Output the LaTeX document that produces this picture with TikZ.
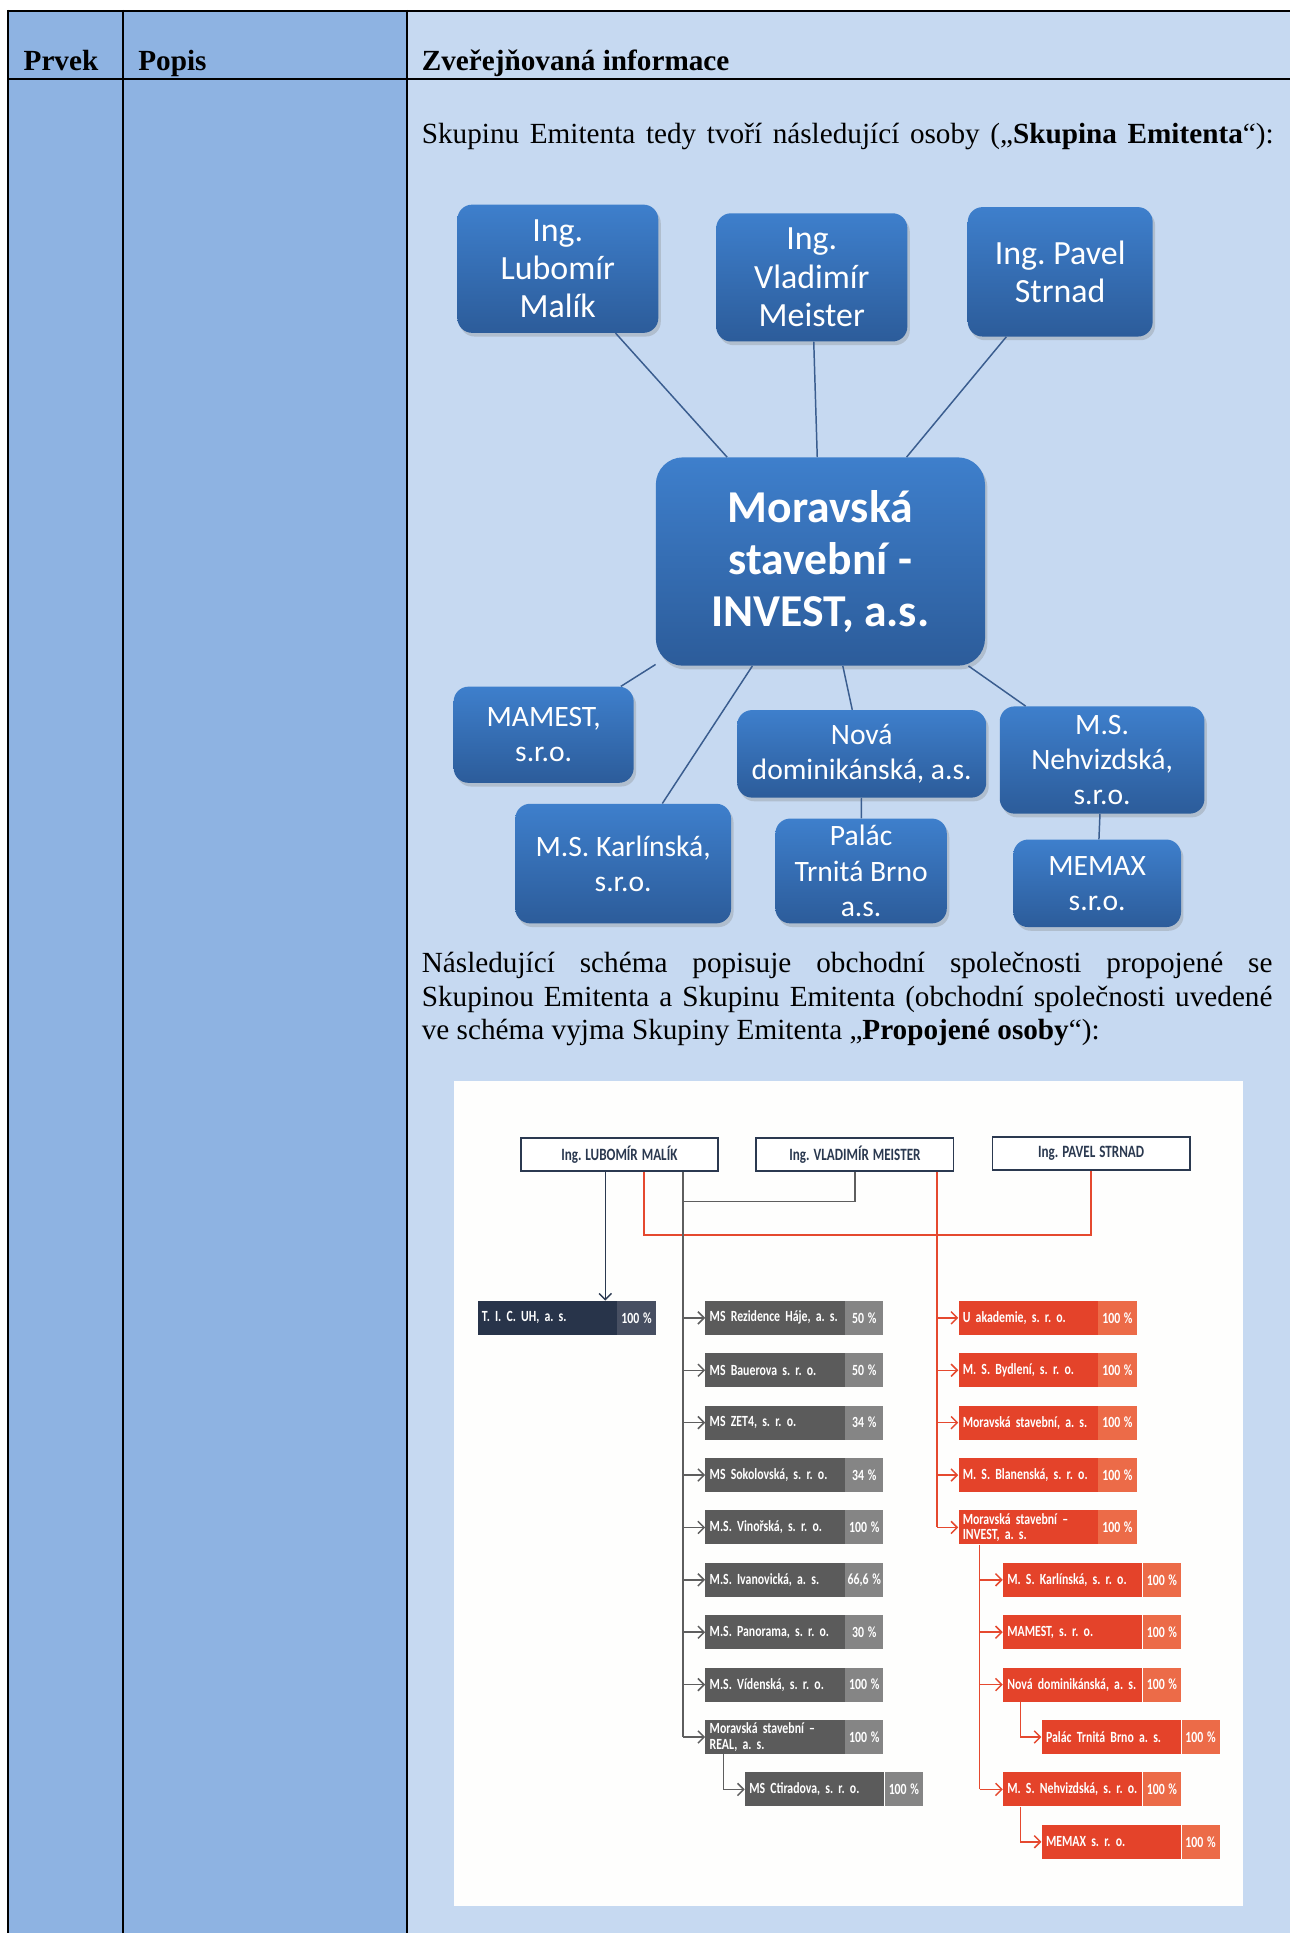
\documentclass[tikz,border=0pt]{standalone}
\usepackage{fontspec}
\setmainfont{Liberation Serif}
\newfontfamily\boxfont{Carlito}
\newfontfamily\chartfont[FakeStretch=0.76]{Carlito}
\usetikzlibrary{arrows.meta, positioning, shadows}

\definecolor{colmid}{HTML}{8EB3E2}
\definecolor{collight}{HTML}{C6D9F1}
\definecolor{boxtop}{HTML}{3E7FCC}
\definecolor{boxbot}{HTML}{2C5C9A}
\definecolor{linkblue}{HTML}{3A5D8F}
\definecolor{chartdark}{HTML}{2B3950}
\definecolor{ticdark}{HTML}{28344A}
\definecolor{ticpct}{HTML}{474F62}
\definecolor{grdark}{HTML}{5B5B5B}
\definecolor{grpct}{HTML}{858585}
\definecolor{grline}{HTML}{5E5E5E}
\definecolor{rddark}{HTML}{E4432A}
\definecolor{rdpct}{HTML}{EC6B48}
\definecolor{rdline}{HTML}{E5492F}
\definecolor{paper}{HTML}{FEFEFD}

\newcommand\bodysize{\fontsize{23.7}{27.3}\selectfont}
\newcommand\rowsize{\chartfont\bfseries\fontsize{12.6}{12.5}\selectfont\spaceskip=3pt plus 1pt\relax}
\newcommand\ownersize{\chartfont\bfseries\fontsize{14}{14}\selectfont\spaceskip=3.2pt\relax}

\begin{document}
\frenchspacing
\begin{tikzpicture}[x=1pt, y=-1pt,
    person/.style={rounded corners=12pt, top color=boxtop, bottom color=boxbot, text=white, align=center, inner sep=0pt,
        drop shadow={opacity=0.3, shadow xshift=2pt, shadow yshift=-3pt}},
    toplevel/.style={person, font=\boxfont\fontsize{27.5}{31}\selectfont},
    sublevel/.style={person, font=\boxfont\fontsize{24}{28.5}\selectfont},
    link/.style={draw=linkblue, line width=1.2pt},
    owner/.style={draw=chartdark, line width=1.5pt, fill=white, text=chartdark, minimum width=160pt, minimum height=27pt,
        inner sep=0pt, font=\ownersize},
    firm/.style={anchor=west, text=white, minimum height=27.5pt, text width=106pt, inner xsep=3.5pt, inner ysep=0pt,
        align=left, font=\rowsize},
    share/.style={text=white, minimum height=27.5pt, minimum width=31pt, inner sep=0pt, font=\rowsize},
    ticname/.style={firm, fill=ticdark}, ticshare/.style={share, fill=ticpct},
    grname/.style={firm, fill=grdark}, grshare/.style={share, fill=grpct},
    rdname/.style={firm, fill=rddark}, rdshare/.style={share, fill=rdpct},
    barb/.style={-{Straight Barb[length=5pt,width=10pt]}},
    grconn/.style={draw=grline, line width=1.2pt},
    rdconn/.style={draw=rdline, line width=1.2pt},
    dkconn/.style={draw=chartdark, line width=1.2pt}]

    \useasboundingbox (0,0) rectangle (1046,1568);

    % Table background and rules
    \fill[colmid] (7,8) rectangle (330,1568);
    \fill[collight] (330,8) rectangle (1046,1568);
    \draw[line width=1.4pt] (6.5,9) -- (1046,9);
    \draw[line width=2.2pt] (6.5,64) -- (1046,64);
    \draw[line width=1.8pt] (6.5,8) -- (6.5,1568);
    \draw[line width=1.8pt] (100,8) -- (100,1568);
    \draw[line width=1.8pt] (330,8) -- (330,1568);

    \node at (19,57) [anchor=base west, inner sep=0pt, font=\bodysize\bfseries] (hprvek) {Prvek};
    \node at (112,57) [anchor=base west, inner sep=0pt, font=\bodysize\bfseries] (hpopis) {Popis};
    \node at (342,57) [anchor=base west, inner sep=0pt, font=\bodysize\bfseries] (hinfo) {Zveřejňovaná informace};

    \node at (342,116) [anchor=base west, inner sep=0pt, font=\bodysize] (intro)
        {\makebox[691pt][s]{Skupinu Emitenta tedy tvoří následující osoby („\textbf{Skupina Emitenta}“):}};

    % Skupina Emitenta
    \node at (452.5,218) [toplevel, minimum width=163pt, minimum height=104pt] (malik) {Ing.\\Lubomír\\Malík};
    \node at (658.5,225) [toplevel, minimum width=155pt, minimum height=104pt] (meister) {Ing.\\Vladimír\\Meister};
    \node at (860,220.5) [toplevel, minimum width=150pt, minimum height=105pt] (strnad) {Ing. Pavel\\Strnad};
    \node at (665.5,455.5) [person, rounded corners=22pt, minimum width=267pt, minimum height=169pt,
        font=\boxfont\bfseries\fontsize{37}{42.5}\selectfont] (msinvest) {Moravská\\stavební -\\INVEST, a.s.};
    \node at (441,596) [sublevel, minimum width=146pt, minimum height=78pt] (mamest) {MAMEST,\\s.r.o.};
    \node at (699,611.5) [sublevel, minimum width=202pt, minimum height=71pt] (nova) {Nová\\dominikánská, a.s.};
    \node at (894,616.5) [sublevel, minimum width=166pt, minimum height=87pt] (nehv) {M.S.\\Nehvizdská,\\s.r.o.};
    \node at (505.5,700.5) [sublevel, minimum width=175pt, minimum height=97pt] (karl) {M.S. Karlínská,\\s.r.o.};
    \node at (698.5,706.5) [sublevel, minimum width=139pt, minimum height=85pt] (palac) {Palác\\Trnitá Brno\\a.s.};
    \node at (890,716.5) [sublevel, minimum width=136pt, minimum height=71pt] (memax) {MEMAX\\s.r.o.};

    \draw[link] (malik) -- (msinvest);
    \draw[link] (meister) -- (msinvest);
    \draw[link] (strnad) -- (msinvest);
    \draw[link] (msinvest) -- (mamest);
    \draw[link] (msinvest) -- (karl);
    \draw[link] (msinvest) -- (nova);
    \draw[link] (msinvest) -- (nehv);
    \draw[link] (nova) -- (palac);
    \draw[link] (nehv) -- (memax);

    \node at (342,789) [anchor=base west, inner sep=0pt, text width=690pt, align=justify, font=\bodysize] (para)
        {\hyphenpenalty=10000 Následující schéma popisuje obchodní společnosti propojené se\linebreak
         Skupinou Emitenta a Skupinu Emitenta (obchodní společnosti uvedené\linebreak
         ve schéma vyjma Skupiny Emitenta „\textbf{Propojené osoby}“):};

    % Propojene osoby
    \fill[paper] (368,877) rectangle (1008,1546);

    \node at (502.4,936.5) [owner] (lmalik) {Ing. LUBOMÍR MALÍK};
    \node at (693.5,936.5) [owner] (lmeister) {Ing. VLADIMÍR MEISTER};
    \node at (885.1,935.5) [owner] (lstrnad) {Ing. PAVEL STRNAD};

    \node at (387.2,1069) [ticname] (tic) {T. I. C. UH, a. s.};
    \node [ticshare, right=0pt of tic] (ticp) {100 \%};

    \node at (572,1069) [grname] (g0) {MS Rezidence Háje, a. s.};
    \node [grshare, right=0pt of g0] (g0p) {50 \%};
    \node at (572,1111.5) [grname] (g1) {MS Bauerova s. r. o.};
    \node [grshare, right=0pt of g1] (g1p) {50 \%};
    \node at (572,1154) [grname] (g2) {MS ZET4, s. r. o.};
    \node [grshare, right=0pt of g2] (g2p) {34 \%};
    \node at (572,1196.5) [grname] (g3) {MS Sokolovská, s. r. o.};
    \node [grshare, right=0pt of g3] (g3p) {34 \%};
    \node at (572,1239) [grname] (g4) {M.S. Vinořská, s. r. o.};
    \node [grshare, right=0pt of g4] (g4p) {100 \%};
    \node at (572,1281.5) [grname] (g5) {M.S. Ivanovická, a. s.};
    \node [grshare, right=0pt of g5] (g5p) {66,6 \%};
    \node at (572,1324) [grname] (g6) {M.S. Panorama, s. r. o.};
    \node [grshare, right=0pt of g6] (g6p) {30 \%};
    \node at (572,1366.5) [grname] (g7) {M.S. Vídenská, s. r. o.};
    \node [grshare, right=0pt of g7] (g7p) {100 \%};
    \node at (572,1409) [grname] (g8) {Moravská stavební –\\REAL, a. s.};
    \node [grshare, right=0pt of g8] (g8p) {100 \%};
    \node at (604.1,1451.5) [grname] (g9) {MS Ctiradova, s. r. o.};
    \node [grshare, right=0pt of g9] (g9p) {100 \%};

    \node at (777.3,1069) [rdname] (r0) {U akademie, s. r. o.};
    \node [rdshare, right=0pt of r0] (r0p) {100 \%};
    \node at (777.3,1111.5) [rdname] (r1) {M. S. Bydlení, s. r. o.};
    \node [rdshare, right=0pt of r1] (r1p) {100 \%};
    \node at (777.3,1154) [rdname] (r2) {Moravská stavební, a. s.};
    \node [rdshare, right=0pt of r2] (r2p) {100 \%};
    \node at (777.3,1196.5) [rdname] (r3) {M. S. Blanenská, s. r. o.};
    \node [rdshare, right=0pt of r3] (r3p) {100 \%};
    \node at (777.3,1239) [rdname] (r4) {Moravská stavební –\\INVEST, a. s.};
    \node [rdshare, right=0pt of r4] (r4p) {100 \%};
    \node at (813.4,1281.5) [rdname] (r5) {M. S. Karlínská, s. r. o.};
    \node [rdshare, right=0pt of r5] (r5p) {100 \%};
    \node at (813.4,1324) [rdname] (r6) {MAMEST, s. r. o.};
    \node [rdshare, right=0pt of r6] (r6p) {100 \%};
    \node at (813.4,1366.5) [rdname] (r7) {Nová dominikánská, a. s.};
    \node [rdshare, right=0pt of r7] (r7p) {100 \%};
    \node at (844.8,1409) [rdname] (r8) {Palác Trnitá Brno a. s.};
    \node [rdshare, right=0pt of r8] (r8p) {100 \%};
    \node at (813.4,1451.5) [rdname] (r9) {M. S. Nehvizdská, s. r. o.};
    \node [rdshare, right=0pt of r9] (r9p) {100 \%};
    \node at (844.8,1494) [rdname] (r10) {MEMAX s. r. o.};
    \node [rdshare, right=0pt of r10] (r10p) {100 \%};

    % connectors of the chart
    \coordinate (dktop) at ([xshift=-11.4pt]lmalik.south);
    \coordinate (rdleft) at ([xshift=20pt]lmalik.south);
    \coordinate (grtop) at ([xshift=51.6pt]lmalik.south);
    \coordinate (grjoin) at (554,974.6);
    \coordinate (rdjoin) at (885.1,1001.6);
    \coordinate (rdtop) at ([xshift=66.5pt]lmeister.south);
    \coordinate (rdsub) at ([xshift=17.4pt]r4.south west);
    \coordinate (grsub) at ([xshift=15pt]g8.south west);
    \coordinate (novasub) at ([xshift=14.4pt]r7.south west);
    \coordinate (nehvsub) at ([xshift=14.4pt]r9.south west);

    \draw[dkconn, barb] (dktop) -- (dktop |- tic.north);
    \draw[rdconn] (rdleft) |- (rdjoin) -- (lstrnad.south);
    \draw[grconn] (lmeister.south) |- (grjoin);
    \draw[grconn] (grtop) -- (grtop |- g8.west);
    \draw[rdconn] (rdtop) -- (rdtop |- r4.west);

    \draw[grconn, barb] (grtop |- g0.west) -- (g0.west);
    \draw[grconn, barb] (grtop |- g1.west) -- (g1.west);
    \draw[grconn, barb] (grtop |- g2.west) -- (g2.west);
    \draw[grconn, barb] (grtop |- g3.west) -- (g3.west);
    \draw[grconn, barb] (grtop |- g4.west) -- (g4.west);
    \draw[grconn, barb] (grtop |- g5.west) -- (g5.west);
    \draw[grconn, barb] (grtop |- g6.west) -- (g6.west);
    \draw[grconn, barb] (grtop |- g7.west) -- (g7.west);
    \draw[grconn, barb] (grtop |- g8.west) -- (g8.west);
    \draw[grconn, barb] (grsub) |- (g9.west);

    \draw[rdconn, barb] (rdtop |- r0.west) -- (r0.west);
    \draw[rdconn, barb] (rdtop |- r1.west) -- (r1.west);
    \draw[rdconn, barb] (rdtop |- r2.west) -- (r2.west);
    \draw[rdconn, barb] (rdtop |- r3.west) -- (r3.west);
    \draw[rdconn, barb] (rdtop |- r4.west) -- (r4.west);
    \draw[rdconn] (rdsub) -- (rdsub |- r9.west);
    \draw[rdconn, barb] (rdsub |- r5.west) -- (r5.west);
    \draw[rdconn, barb] (rdsub |- r6.west) -- (r6.west);
    \draw[rdconn, barb] (rdsub |- r7.west) -- (r7.west);
    \draw[rdconn, barb] (rdsub |- r9.west) -- (r9.west);
    \draw[rdconn, barb] (novasub) |- (r8.west);
    \draw[rdconn, barb] (nehvsub) |- (r10.west);

\end{tikzpicture}
\end{document}
